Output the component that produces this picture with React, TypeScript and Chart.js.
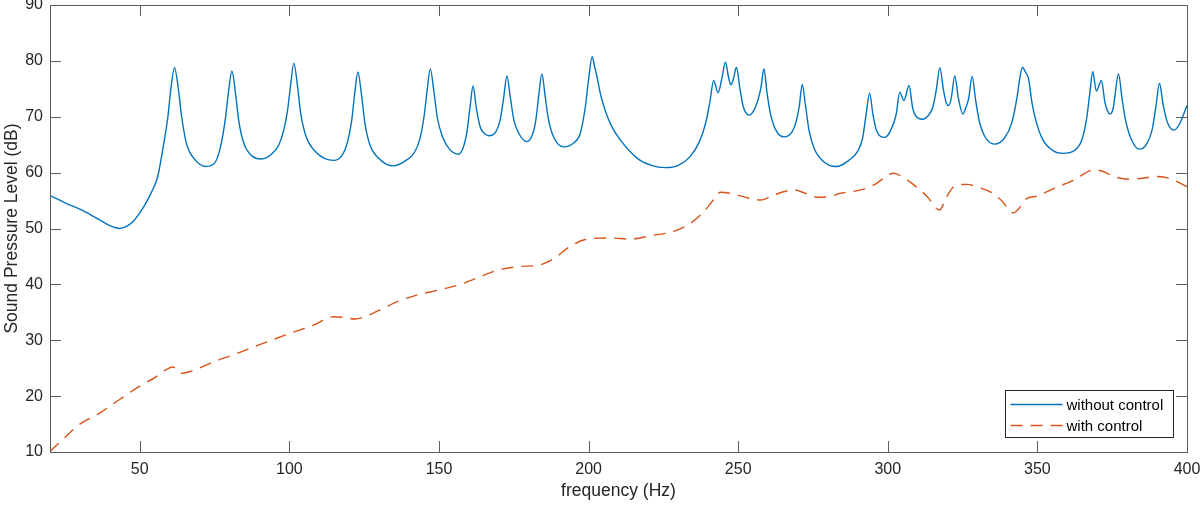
import { useEffect, useRef } from 'react';
import { Chart, registerables } from 'chart.js';
import type { Plugin } from 'chart.js';

Chart.register(...registerables);

// without control: resonance peaks (Hz, dB)
const FREQ_OFF = [
  20, 25, 31, 36.7, 40, 43.4, 46, 48, 50, 52, 54, 56, 57.9, 59.4, 60.4, 61.6, 62.9, 64.0, 65.7, 68, 72.1,
  75, 76.8, 78.5, 79.6, 80.8, 82.0, 83.1, 84.8, 87.5, 90.6,
  94, 96.5, 98.2, 99.4, 100.4, 101.5, 102.7, 103.8, 105.5, 109, 114.8,
  117.5, 119.3, 120.8, 121.8, 122.9, 124.1, 125.2, 126.9, 130, 134.8,
  139, 141.8, 143.6, 145.0, 146.0, 147.1, 148.3, 149.4, 151.1, 153.5, 156.6,
  158.3, 159.4, 160.4, 161.4, 162.5, 163.7, 164.8, 166.6,
  169, 170.4, 171.6, 172.7, 173.9, 175.0, 176.7, 179.4,
  181.3, 182.4, 183.3, 184.4, 185.5, 186.5, 188.2, 191.7,
  195, 197.2, 198.9, 200.0, 201.2, 202.0, 202.8, 204.0, 205.5, 207.5, 210.6, 216.2, 221, 225.7, 230, 234, 237, 239.1, 240.5,
  241.8, 243.3, 244.6, 245.75, 246.8, 247.6, 248.5, 249.4, 250.6, 251.7, 253.8,
  255.5, 256.6, 257.6, 258.6, 259.7, 260.9, 262.6, 265.3,
  268, 269.3, 270.4, 271.4, 272.5, 273.7, 275.4, 278.5, 282.8,
  287, 289.9, 291.6, 292.7, 293.9, 295.1, 296.2, 299,
  301, 302.8, 304, 305.4, 307.1, 308.3, 309.4, 311.5,
  313.5, 315.1, 316.2, 317.4, 318.6, 319.6, 320.4, 321.2, 322.4, 323.6, 325.1,
  326, 327.0, 328.2, 329.4, 330.6, 332.3, 335.7,
  339, 341.5, 343.2, 344.0, 345, 346, 347, 348.2, 349.5, 351.7, 355, 358.4,
  362.5, 364.8, 366.4, 367.5, 368.5, 369.7, 371.4, 372.6, 374.3,
  375.4, 375.9, 377.1, 378.3, 379.5, 381.2, 384,
  386.6, 388.4, 389.6, 390.8, 392, 393.2, 394.4, 395.7, 397.5, 400,
];
const SPL_OFF = [
  55.9, 54.6, 53.2, 51.5, 50.5, 50.0, 50.5, 51.4, 52.8, 54.5, 56.6, 59.3, 64.8, 70, 75, 78.8, 75, 70, 65, 62.6, 61.1,
  61.7, 64.2, 69.2, 74.2, 78.2, 74.2, 69.2, 65.2, 63.0, 62.45,
  63.3, 65.0, 67.8, 71.2, 75.6, 79.6, 75.6, 70.6, 66.6, 63.6, 62.2,
  63.0, 65.2, 69.2, 74, 78.0, 74, 69, 65, 62.5, 61.2,
  62.2, 63.6, 66.0, 70.0, 74.5, 78.55, 74.55, 70.0, 66.5, 64.2, 63.3,
  64.8, 67.5, 71.8, 75.5, 71.5, 68.3, 67.2, 66.6,
  67.3, 69.3, 73.3, 77.3, 73.3, 69.5, 67, 65.55,
  66.9, 69.5, 73.6, 77.65, 73.6, 69.8, 66.5, 64.6,
  65.3, 67, 71.7, 76.7, 80.75, 79.0, 77.2, 74.0, 71.2, 68.5, 65.85, 62.6, 61.3, 60.9, 61.3, 62.9, 65.5, 68.8, 72.5,
  76.5, 74.3, 77, 79.75, 77, 75.7, 77, 78.85, 75, 71.8, 70.3,
  71.4, 73.0, 75.2, 78.6, 74.0, 70.3, 67.6, 66.4,
  67.3, 69.0, 71.8, 75.8, 72, 67.5, 64.3, 62, 61.1,
  62.2, 63.8, 66.2, 70.2, 74.2, 70.2, 67.6, 66.3,
  67.6, 70.4, 74.4, 72.9, 75.6, 71.6, 70.1, 69.55,
  70.2, 71.8, 74.8, 78.8, 74.8, 72.4, 72.0, 73.3, 77.3, 73.3, 70.5,
  71.5, 73.2, 77.2, 72.8, 69.2, 66.6, 65.1,
  66.2, 69, 73.5, 76.5, 78.85, 78, 76.9, 72.5, 69.3, 66, 64, 63.45,
  64.0, 65.8, 69.5, 74.1, 78.1, 74.6, 76.5, 72.5, 70.5,
  71.7, 73.7, 77.7, 73.2, 69.3, 66.2, 64.2,
  65.2, 67.8, 71.8, 76.0, 72.2, 69.4, 68.0, 67.6, 68.7, 72,
];

// with control
const FREQ_ON = [
  20, 25, 30, 36.7, 43, 50, 55, 59, 61, 62.5, 64, 67, 75, 81.3, 90, 100, 108, 114.7, 118, 122,
  126, 131, 136, 142, 150, 156, 162, 170, 177, 183, 185, 188.3, 193.9, 199.5, 207.3, 214, 220.7,
  228.5, 234, 238.5, 242, 244.1, 249.7, 253, 257.5, 261.9, 268.6, 272.5, 276.4, 280.3, 284.2,
  290.9, 295.4, 302, 305, 308.7, 313.2, 317.3, 319.5, 322.1, 326.6, 330, 334.4, 338, 342,
  346.6, 350, 355.6, 362, 368.9, 372, 375.6, 381.2, 385, 390.1, 394, 400,
];
const SPL_ON = [
  10.1, 12.6, 15.0, 17.0, 19.3, 21.8, 23.3, 24.8, 25.2, 24.8, 24.1, 24.4, 26.2, 27.4, 29.2, 31.2, 32.7, 34.2, 34.1, 33.8,
  34.4, 35.6, 36.9, 38.0, 39.0, 39.8, 41.0, 42.6, 43.2, 43.4, 43.7, 44.6, 46.8, 48.1, 48.3, 48.1, 48.7,
  49.5, 50.9, 53.0, 55.3, 56.5, 56.0, 55.5, 55.1, 56.0, 56.9, 56.3, 55.6, 55.7, 56.3,
  56.9, 57.8, 59.9, 59.2, 57.8, 55.7, 53.3, 55.5, 57.5, 57.9, 57.4, 56.5, 55, 52.8,
  55.4, 55.8, 57.2, 58.6, 60.5, 60.2, 59.3, 58.8, 59.0, 59.3, 59.0, 57.5,
];

const X_TICKS = [50, 100, 150, 200, 250, 300, 350, 400];
const Y_TICKS = [10, 20, 30, 40, 50, 60, 70, 80, 90];
const LABELS = ['without control', 'with control'];

const FONT = 'Liberation Sans, Arial, Helvetica, sans-serif';
const AXIS = '#262626';

// MATLAB-ish box with inward ticks on all four sides, plus a boxed legend
const boxPlugin: Plugin<'line'> = {
  id: 'matlabBox',
  afterDraw(chart) {
    const { ctx, chartArea: a, scales } = chart;
    const tl = 11;
    ctx.save();
    ctx.strokeStyle = '#5c5c5c';
    ctx.lineWidth = 1;
    ctx.beginPath();
    for (const v of X_TICKS) {
      const x = Math.round(scales.x.getPixelForValue(v)) + 0.5;
      ctx.moveTo(x, a.bottom); ctx.lineTo(x, a.bottom - tl);
      ctx.moveTo(x, a.top); ctx.lineTo(x, a.top + tl);
    }
    for (const v of Y_TICKS) {
      const y = Math.round(scales.y.getPixelForValue(v)) + 0.5;
      ctx.moveTo(a.left, y); ctx.lineTo(a.left + tl, y);
      ctx.moveTo(a.right, y); ctx.lineTo(a.right - tl, y);
    }
    ctx.stroke();
    ctx.strokeRect(Math.round(a.left) + 0.5, Math.round(a.top) + 0.5, Math.round(a.right - a.left), Math.round(a.bottom - a.top));

    // legend
    const w = 168, h = 47;
    const lx = Math.round(a.right - 14 - w) + 0.5;
    const ly = Math.round(a.bottom - 15 - h) + 0.5;
    ctx.fillStyle = '#ffffff';
    ctx.fillRect(lx, ly, w, h);
    ctx.strokeStyle = AXIS;
    ctx.strokeRect(lx, ly, w, h);
    ctx.font = `15px ${FONT}`;
    ctx.textBaseline = 'middle';
    chart.data.datasets.forEach((ds: any, i) => {
      const yy = ly + 14 + i * 21;
      ctx.strokeStyle = ds.borderColor;
      ctx.lineWidth = 1.3;
      ctx.setLineDash(ds.borderDash || []);
      ctx.beginPath();
      ctx.moveTo(lx + 5, yy); ctx.lineTo(lx + 57, yy);
      ctx.stroke();
      ctx.setLineDash([]);
      ctx.fillStyle = '#000000';
      ctx.fillText(ds.label, lx + 61, yy + 1);
    });
    ctx.restore();
  },
};

export default function App() {
  const canvasRef = useRef<HTMLCanvasElement>(null);
  const chartRef = useRef<Chart | null>(null);

  useEffect(() => {
    if (!canvasRef.current) return;
    if (chartRef.current) { chartRef.current.destroy(); chartRef.current = null; }

    chartRef.current = new Chart(canvasRef.current, {
      type: 'line',
      data: {
        datasets: [
          {
            label: LABELS[0],
            data: FREQ_OFF.map((f, i) => ({ x: f, y: SPL_OFF[i] })),
            borderColor: '#0072BD',
            borderWidth: 1.4,
            pointRadius: 0,
            cubicInterpolationMode: 'monotone',
          },
          {
            label: LABELS[1],
            data: FREQ_ON.map((f, i) => ({ x: f, y: SPL_ON[i] })),
            borderColor: '#D95319',
            borderWidth: 1.4,
            borderDash: [12, 8],
            pointRadius: 0,
            cubicInterpolationMode: 'monotone',
          },
        ],
      },
      options: {
        responsive: true,
        maintainAspectRatio: false,
        animation: false,
        layout: { padding: { top: 5, right: 13, left: 0, bottom: 0 } },
        plugins: { legend: { display: false }, tooltip: { enabled: false } },
        scales: {
          x: {
            type: 'linear',
            min: 20,
            max: 400,
            grid: { display: false, drawTicks: false },
            border: { display: false },
            afterBuildTicks: (s) => { s.ticks = X_TICKS.map(v => ({ value: v })); },
            afterFit: (s) => { s.height = 54; s.paddingLeft = 0; s.paddingRight = 0; },
            ticks: { color: AXIS, padding: 8, maxRotation: 0, autoSkip: false, font: { family: FONT, size: 16 } },
            title: { display: true, text: 'frequency (Hz)', color: AXIS, font: { family: FONT, size: 17.5 }, padding: { top: 2, bottom: 4 } },
          },
          y: {
            type: 'linear',
            min: 10,
            max: 90,
            grid: { display: false, drawTicks: false },
            border: { display: false },
            afterBuildTicks: (s) => { s.ticks = Y_TICKS.map(v => ({ value: v })); },
            afterFit: (s) => { s.width = 50; s.paddingTop = 0; s.paddingBottom = 0; },
            ticks: { color: AXIS, padding: 7, autoSkip: false, font: { family: FONT, size: 16 } },
            title: { display: true, text: 'Sound Pressure Level (dB)', color: AXIS, font: { family: FONT, size: 17.5 }, padding: { top: 2, bottom: 2 } },
          },
        },
      },
      plugins: [boxPlugin],
    });

    return () => { chartRef.current?.destroy(); chartRef.current = null; };
  }, []);

  return (
    <div style={{ position: 'absolute', left: 0, top: 0, width: 1200, height: 506, background: '#ffffff' }}>
      <canvas ref={canvasRef} style={{ width: '100%', height: '100%' }} />
    </div>
  );
}
